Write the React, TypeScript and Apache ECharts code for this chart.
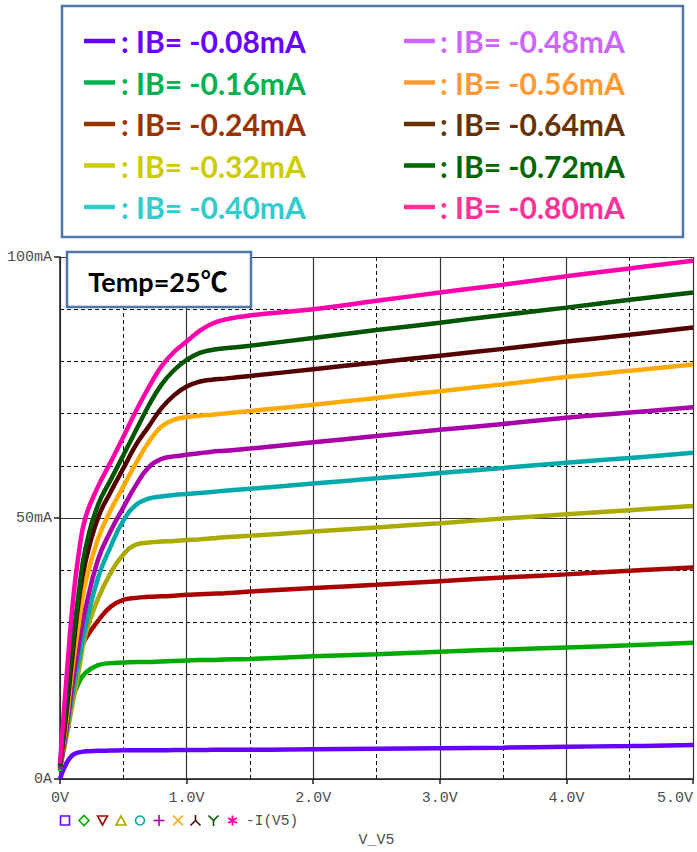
import React, { useEffect, useRef } from "react";
import * as echarts from "echarts";

// ---------- data ----------
const vPoints = [0, 0.05, 0.1, 0.15, 0.2, 0.3, 0.4, 0.5, 0.6, 0.7, 0.8, 0.9, 1.0, 1.1, 1.2, 1.3, 1.5, 2.0, 2.5, 3.0, 3.5, 4.0, 4.5, 5.0];

const ib008 = [0, 3, 4.6, 5.1, 5.3, 5.4, 5.45, 5.5, 5.5, 5.5, 5.5, 5.55, 5.55, 5.55, 5.6, 5.6, 5.6, 5.7, 5.8, 5.9, 6.0, 6.2, 6.3, 6.5];
const ib016 = [1.5, 11, 15.5, 18.5, 20.3, 21.8, 22.2, 22.3, 22.4, 22.4, 22.5, 22.6, 22.7, 22.8, 22.8, 22.9, 23.0, 23.5, 23.9, 24.4, 24.8, 25.2, 25.6, 26.1];
const ib024 = [2, 11.5, 19.5, 24, 26.8, 30.3, 33.0, 34.3, 34.7, 34.9, 35.0, 35.1, 35.3, 35.4, 35.5, 35.6, 35.9, 36.6, 37.2, 37.9, 38.6, 39.2, 39.9, 40.5];
const ib032 = [2, 8, 14.5, 21, 27.5, 34.5, 39.5, 43, 44.9, 45.3, 45.5, 45.6, 45.8, 45.9, 46.1, 46.3, 46.6, 47.4, 48.2, 49, 49.9, 50.7, 51.5, 52.3];
const ib040 = [2, 9, 16.5, 23, 29, 38.5, 44.5, 49.5, 52.5, 53.7, 54.1, 54.4, 54.6, 54.8, 55, 55.2, 55.6, 56.6, 57.6, 58.6, 59.6, 60.6, 61.5, 62.5];
const ib048 = [2, 9.5, 18.5, 26, 32.5, 42, 47.5, 52, 56.3, 59.7, 61.3, 61.8, 62.1, 62.4, 62.7, 62.9, 63.3, 64.5, 65.7, 66.9, 68, 69.2, 70.2, 71.2];
const ib056 = [2.5, 11, 21.5, 30, 37.5, 46, 51.5, 56, 60.5, 64.5, 67.5, 68.8, 69.3, 69.6, 69.8, 70, 70.5, 71.7, 73, 74.3, 75.6, 77, 78.2, 79.4];
const ib064 = [2.5, 12.5, 24, 34.5, 41.5, 50, 55, 59.5, 64, 67.5, 71, 73.5, 75.2, 76.1, 76.5, 76.7, 77.2, 78.5, 79.8, 81.1, 82.4, 83.8, 85.1, 86.5];
const ib072 = [2.5, 14, 26, 36, 44, 52.5, 57.3, 62, 66.8, 71.5, 75.5, 78.3, 80.3, 81.6, 82.2, 82.5, 83, 84.5, 86, 87.4, 88.9, 90.3, 91.8, 93.2];
const ib080 = [3, 19, 33.5, 43.5, 50, 56, 60.7, 65.5, 70.5, 75, 79, 81.8, 83.8, 85.8, 87.2, 88.0, 88.8, 90.0, 91.6, 93.2, 94.7, 96.3, 97.8, 99.3];

const seriesValues = [ib008, ib016, ib024, ib032, ib040, ib048, ib056, ib064, ib072, ib080];
const legendLabels = [
  ": IB= -0.08mA", ": IB= -0.16mA", ": IB= -0.24mA", ": IB= -0.32mA", ": IB= -0.40mA",
  ": IB= -0.48mA", ": IB= -0.56mA", ": IB= -0.64mA", ": IB= -0.72mA", ": IB= -0.80mA",
];
const curveColors = ["#6600ff", "#00aa00", "#aa0000", "#aaaa00", "#00aaaa", "#aa00aa", "#ffaa00", "#550000", "#005500", "#ff00aa"];
const legendColors = ["#6600ff", "#00b050", "#993300", "#cccc00", "#33cccc", "#cc66ff", "#ff9933", "#663300", "#006600", "#ff3399"];

const xTickLabels = ["0V", "1.0V", "2.0V", "3.0V", "4.0V", "5.0V"];
const yTickLabels = ["0A", "50mA", "100mA"];
const xAxisTitle = "V_V5";
const traceLabel = "-I(V5)";
const tempLabel = "Temp=25℃";

// ---------- component ----------
export default function App() {
  const ref = useRef<HTMLDivElement>(null);

  useEffect(() => {
    document.body.style.margin = "0";
    if (!ref.current) return;
    const chart = echarts.init(ref.current, undefined, { renderer: "svg" });

    const monoFont = "'Liberation Mono', 'DejaVu Sans Mono', monospace";
    const boxStroke = "#4f76a8";

    const graphics: any[] = [];
    // legend box
    graphics.push({
      type: "rect",
      z: 100,
      shape: { x: 62, y: 6, width: 621, height: 231 },
      style: { fill: "#ffffff", stroke: boxStroke, lineWidth: 2.5 },
    });
    legendLabels.forEach((lab, i) => {
      const col = i < 5 ? 0 : 1;
      const row = i % 5;
      const yc = 41 + row * 41.5;
      const lx = col === 0 ? 84 : 404;
      const tx = col === 0 ? 121 : 440;
      graphics.push({
        type: "line",
        z: 101,
        shape: { x1: lx, y1: yc, x2: lx + 31, y2: yc },
        style: { stroke: legendColors[i], lineWidth: 4.5 },
      });
      graphics.push({
        type: "text",
        z: 101,
        x: tx,
        y: yc,
        style: {
          text: lab,
          fill: legendColors[i],
          font: "bold 30px Lato, 'Noto Sans', sans-serif",
          verticalAlign: "middle",
          align: "left",
        },
      });
    });
    // temp box
    graphics.push({
      type: "rect",
      z: 100,
      shape: { x: 67, y: 252, width: 184, height: 55 },
      style: { fill: "#ffffff", stroke: boxStroke, lineWidth: 2.5 },
    });
    graphics.push({
      type: "text",
      z: 101,
      x: 158,
      y: 281,
      style: {
        text: tempLabel,
        fill: "#000",
        font: "bold 27px Lato, 'Noto Sans CJK SC', sans-serif",
        align: "center",
        verticalAlign: "middle",
      },
    });

    // bottom trace legend symbols
    const sy = 820.5;
    const sw = 1.6;
    const c = curveColors;
    graphics.push({ type: "rect", shape: { x: 60.5, y: sy - 4.5, width: 9, height: 9 }, style: { fill: "none", stroke: c[0], lineWidth: sw } });
    graphics.push({ type: "polygon", shape: { points: [[84, sy - 5], [89, sy], [84, sy + 5], [79, sy]] }, style: { fill: "none", stroke: c[1], lineWidth: sw } });
    graphics.push({ type: "polygon", shape: { points: [[97.5, sy - 4.5], [107.5, sy - 4.5], [102.5, sy + 4.5]] }, style: { fill: "none", stroke: c[2], lineWidth: sw } });
    graphics.push({ type: "polygon", shape: { points: [[116, sy + 4.5], [126, sy + 4.5], [121, sy - 4.5]] }, style: { fill: "none", stroke: c[3], lineWidth: sw } });
    graphics.push({ type: "circle", shape: { cx: 140, cy: sy, r: 4.5 }, style: { fill: "none", stroke: c[4], lineWidth: sw } });
    graphics.push({ type: "line", shape: { x1: 153.5, y1: sy, x2: 164.5, y2: sy }, style: { stroke: c[5], lineWidth: sw } });
    graphics.push({ type: "line", shape: { x1: 159, y1: sy - 5.5, x2: 159, y2: sy + 5.5 }, style: { stroke: c[5], lineWidth: sw } });
    graphics.push({ type: "line", shape: { x1: 173, y1: sy - 5, x2: 183, y2: sy + 5 }, style: { stroke: c[6], lineWidth: sw } });
    graphics.push({ type: "line", shape: { x1: 183, y1: sy - 5, x2: 173, y2: sy + 5 }, style: { stroke: c[6], lineWidth: sw } });
    graphics.push({ type: "polyline", shape: { points: [[195.5, sy - 5.5], [195.5, sy], [190.5, sy + 5]] }, style: { fill: "none", stroke: c[7], lineWidth: sw } });
    graphics.push({ type: "line", shape: { x1: 195.5, y1: sy, x2: 200.5, y2: sy + 5 }, style: { stroke: c[7], lineWidth: sw } });
    graphics.push({ type: "polyline", shape: { points: [[208.5, sy - 5], [213.5, sy], [213.5, sy + 5.5]] }, style: { fill: "none", stroke: c[8], lineWidth: sw } });
    graphics.push({ type: "line", shape: { x1: 213.5, y1: sy, x2: 218.5, y2: sy - 5 }, style: { stroke: c[8], lineWidth: sw } });
    graphics.push({ type: "line", shape: { x1: 232.5, y1: sy - 5, x2: 232.5, y2: sy + 5 }, style: { stroke: c[9], lineWidth: 2 } });
    graphics.push({ type: "line", shape: { x1: 228.2, y1: sy - 2.5, x2: 236.8, y2: sy + 2.5 }, style: { stroke: c[9], lineWidth: 2 } });
    graphics.push({ type: "line", shape: { x1: 228.2, y1: sy + 2.5, x2: 236.8, y2: sy - 2.5 }, style: { stroke: c[9], lineWidth: 2 } });
    graphics.push({
      type: "text",
      x: 246,
      y: sy,
      style: { text: traceLabel, fill: "#4d4d4d", font: `14.5px ${monoFont}`, verticalAlign: "middle", align: "left" },
    });

    const option: any = {
      animation: false,
      backgroundColor: "#ffffff",
      grid: { left: 60, right: 4, top: 257, bottom: 73, containLabel: false, outerBoundsMode: "none" },
      xAxis: [
        {
          type: "value", min: 0, max: 5, interval: 0.5,
          axisLine: { show: false }, axisTick: { show: false }, axisLabel: { show: false },
          splitLine: { show: true, lineStyle: { type: [4, 3], color: "#111", width: 1 } },
        },
        {
          type: "value", min: 0, max: 5, interval: 1, position: "bottom",
          axisLine: { show: true, onZero: false, lineStyle: { color: "#222", width: 1.5 } },
          axisTick: { show: true, length: 5, lineStyle: { color: "#222", width: 1.5 } },
          axisLabel: {
            show: true, margin: 12, color: "#4d4d4d", fontFamily: monoFont, fontSize: 15,
            alignMaxLabel: "right",
            formatter: (v: number) => xTickLabels[Math.round(v)] ?? "",
          },
          splitLine: { show: true, lineStyle: { type: "solid", color: "#333", width: 1.2 } },
          name: xAxisTitle, nameLocation: "middle", nameGap: 54,
          nameTextStyle: { color: "#4d4d4d", fontFamily: monoFont, fontSize: 15 },
        },
      ],
      yAxis: [
        {
          type: "value", min: 0, max: 100, interval: 10,
          axisLine: { show: false }, axisTick: { show: false }, axisLabel: { show: false },
          splitLine: { show: true, lineStyle: { type: [4, 3], color: "#111", width: 1 } },
        },
        {
          type: "value", min: 0, max: 100, interval: 50, position: "left",
          axisLine: { show: true, onZero: false, lineStyle: { color: "#222", width: 1.5 } },
          axisTick: { show: true, length: 6, lineStyle: { color: "#222", width: 1.5 } },
          axisLabel: {
            show: true, margin: 8, color: "#4d4d4d", fontFamily: monoFont, fontSize: 15,
            formatter: (v: number) => yTickLabels[Math.round(v / 50)] ?? "",
          },
          splitLine: { show: true, lineStyle: { type: "solid", color: "#333", width: 1.2 } },
        },
      ],
      series: seriesValues.map((arr, i) => ({
        type: "line",
        name: legendLabels[i],
        xAxisIndex: 0,
        yAxisIndex: 0,
        data: vPoints.map((v, k) => [v, arr[k]]),
        showSymbol: false,
        smooth: 0.45,
        lineStyle: { color: curveColors[i], width: 4.5 },
        z: 2 + i,
      })),
      graphic: graphics,
    };

    chart.setOption(option);
    return () => chart.dispose();
  }, []);

  return <div ref={ref} style={{ width: 697, height: 852 }} />;
}
